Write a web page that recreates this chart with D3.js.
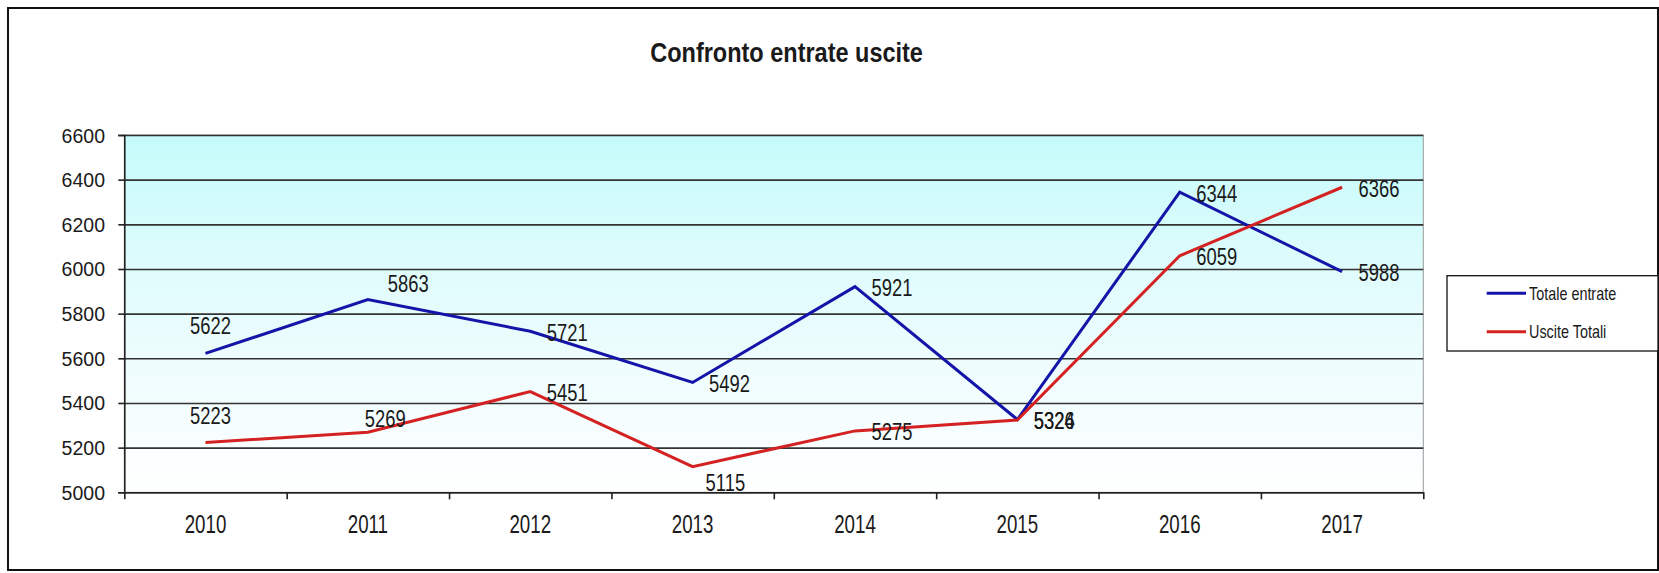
<!DOCTYPE html>
<html>
<head>
<meta charset="utf-8">
<script src="https://cdn.jsdelivr.net/npm/d3@7"></script>
<style>
  html, body { margin: 0; padding: 0; background: #fff; }
  svg { display: block; }
  text { font-family: "Liberation Sans", Arial, sans-serif; fill: #1a1a1a; }
</style>
</head>
<body>
<svg id="chart" width="1659" height="573"></svg>
<script>
// ---- data ----
const years = ["2010", "2011", "2012", "2013", "2014", "2015", "2016", "2017"];
const entrate = [5622, 5863, 5721, 5492, 5921, 5326, 6344, 5988];
const uscite  = [5223, 5269, 5451, 5115, 5275, 5324, 6059, 6366];
const yTicks = [5000, 5200, 5400, 5600, 5800, 6000, 6200, 6400, 6600];
const seriesNames = ["Totale entrate", "Uscite Totali"];
const title = "Confronto entrate uscite";
// label placement names (Excel-style positions)
const entrateLabelPos = ["above", "aboveRight", "right", "right", "right", "right", "right", "right"];
const usciteLabelPos  = ["above", "upper", "right", "below", "right", "right", "right", "right"];

// ---- layout ----
const W = 1659, H = 573;
const plot = { left: 124.3, right: 1423.3, top: 135, bottom: 492.3 };
const colors = ["#1414a8", "#d42222"];

const svg = d3.select("#chart");

// outer frame
svg.append("rect").attr("x", 8).attr("y", 8).attr("width", 1650).attr("height", 562)
  .attr("fill", "#fff").attr("stroke", "#111").attr("stroke-width", 2);

// gradient
const defs = svg.append("defs");
const grad = defs.append("linearGradient").attr("id", "bg").attr("x1", 0).attr("y1", 0).attr("x2", 0).attr("y2", 1);
grad.append("stop").attr("offset", "0%").attr("stop-color", "#c6fbfb");
grad.append("stop").attr("offset", "55%").attr("stop-color", "#eafcfd");
grad.append("stop").attr("offset", "100%").attr("stop-color", "#ffffff");

const x = d3.scaleBand().domain(years).range([plot.left, plot.right]).padding(0);
const xb = d3.scaleLinear().domain([0, years.length]).range([plot.left, plot.right]);
const y = d3.scaleLinear().domain([5000, 6600]).range([plot.bottom, plot.top]);
const cx = d => x(d) + x.bandwidth() / 2;

// plot background
svg.append("rect").attr("x", plot.left).attr("y", plot.top)
  .attr("width", plot.right - plot.left).attr("height", plot.bottom - plot.top)
  .attr("fill", "url(#bg)").attr("stroke", "#9a9a9a").attr("stroke-width", 1);

// gridlines
const grid = svg.append("g").attr("transform", `translate(${plot.left},0)`)
  .call(d3.axisLeft(y).tickValues(yTicks).tickSize(-(plot.right - plot.left)).tickFormat(""));
grid.select(".domain").remove();
grid.selectAll("line").attr("stroke", "#333").attr("stroke-width", 1.6);

// y axis
const ya = svg.append("g").attr("transform", `translate(${plot.left},0)`)
  .call(d3.axisLeft(y).tickValues(yTicks).tickSize(6).tickFormat(""));
ya.selectAll("line, path").attr("stroke", "#222").attr("stroke-width", 1.6);

// x axis (ticks on category boundaries)
const xa = svg.append("g").attr("transform", `translate(0,${plot.bottom})`)
  .call(d3.axisBottom(xb).tickValues(d3.range(years.length + 1)).tickSize(7).tickFormat("").tickSizeOuter(0));
xa.selectAll("line, path").attr("stroke", "#222").attr("stroke-width", 1.6);

// text helper with horizontal condensation
function txt(g, str, px, py, size, sx, anchor, weight) {
  return g.append("text")
    .attr("transform", `translate(${px},${py}) scale(${sx},1)`)
    .attr("text-anchor", anchor || "start")
    .attr("font-size", size)
    .attr("font-weight", weight || "normal")
    .text(str);
}

// y tick labels
const yl = svg.append("g");
yTicks.forEach(v => txt(yl, v, 105, y(v) + 7.5, 21, 0.93, "end"));

// x tick labels
const xl = svg.append("g");
years.forEach(yr => txt(xl, yr, cx(yr), 532.7, 26, 0.72, "middle"));

// title
txt(svg, title, 786.6, 61.7, 27, 0.87, "middle", "bold");

// lines
const line = d3.line().x((d, i) => cx(years[i])).y(d => y(d));
[entrate, uscite].forEach((s, k) => {
  svg.append("path").datum(s).attr("d", line)
    .attr("fill", "none").attr("stroke", colors[k]).attr("stroke-width", 3)
    .attr("stroke-linejoin", "miter");
});

// data labels
const posMap = {
  above:      { dx: 5,    dy: -19,  anchor: "middle" },
  aboveRight: { dx: 20,   dy: -8,   anchor: "start" },
  upper:      { dx: -3,   dy: -5.5, anchor: "start" },
  right:      { dx: 16.5, dy: 9.5,  anchor: "start" },
  below:      { dx: 13,   dy: 24,   anchor: "start" }
};
const lbl = svg.append("g");
[[entrate, entrateLabelPos], [uscite, usciteLabelPos]].forEach(([s, pos]) => {
  s.forEach((v, i) => {
    const p = posMap[pos[i]];
    txt(lbl, v, cx(years[i]) + p.dx, y(v) + p.dy, 23, 0.8, p.anchor);
  });
});

// legend
const lg = svg.append("g");
lg.append("rect").attr("x", 1447).attr("y", 275.7).attr("width", 211).attr("height", 75.3)
  .attr("fill", "#fff").attr("stroke", "#111").attr("stroke-width", 1.3);
seriesNames.forEach((n, k) => {
  const ly = 293.3 + k * 38.4;
  lg.append("line").attr("x1", 1486.7).attr("x2", 1526).attr("y1", ly).attr("y2", ly)
    .attr("stroke", colors[k]).attr("stroke-width", 3);
  txt(lg, n, 1529, ly + 6.5, 18, 0.8, "start");
});
</script>
</body>
</html>
